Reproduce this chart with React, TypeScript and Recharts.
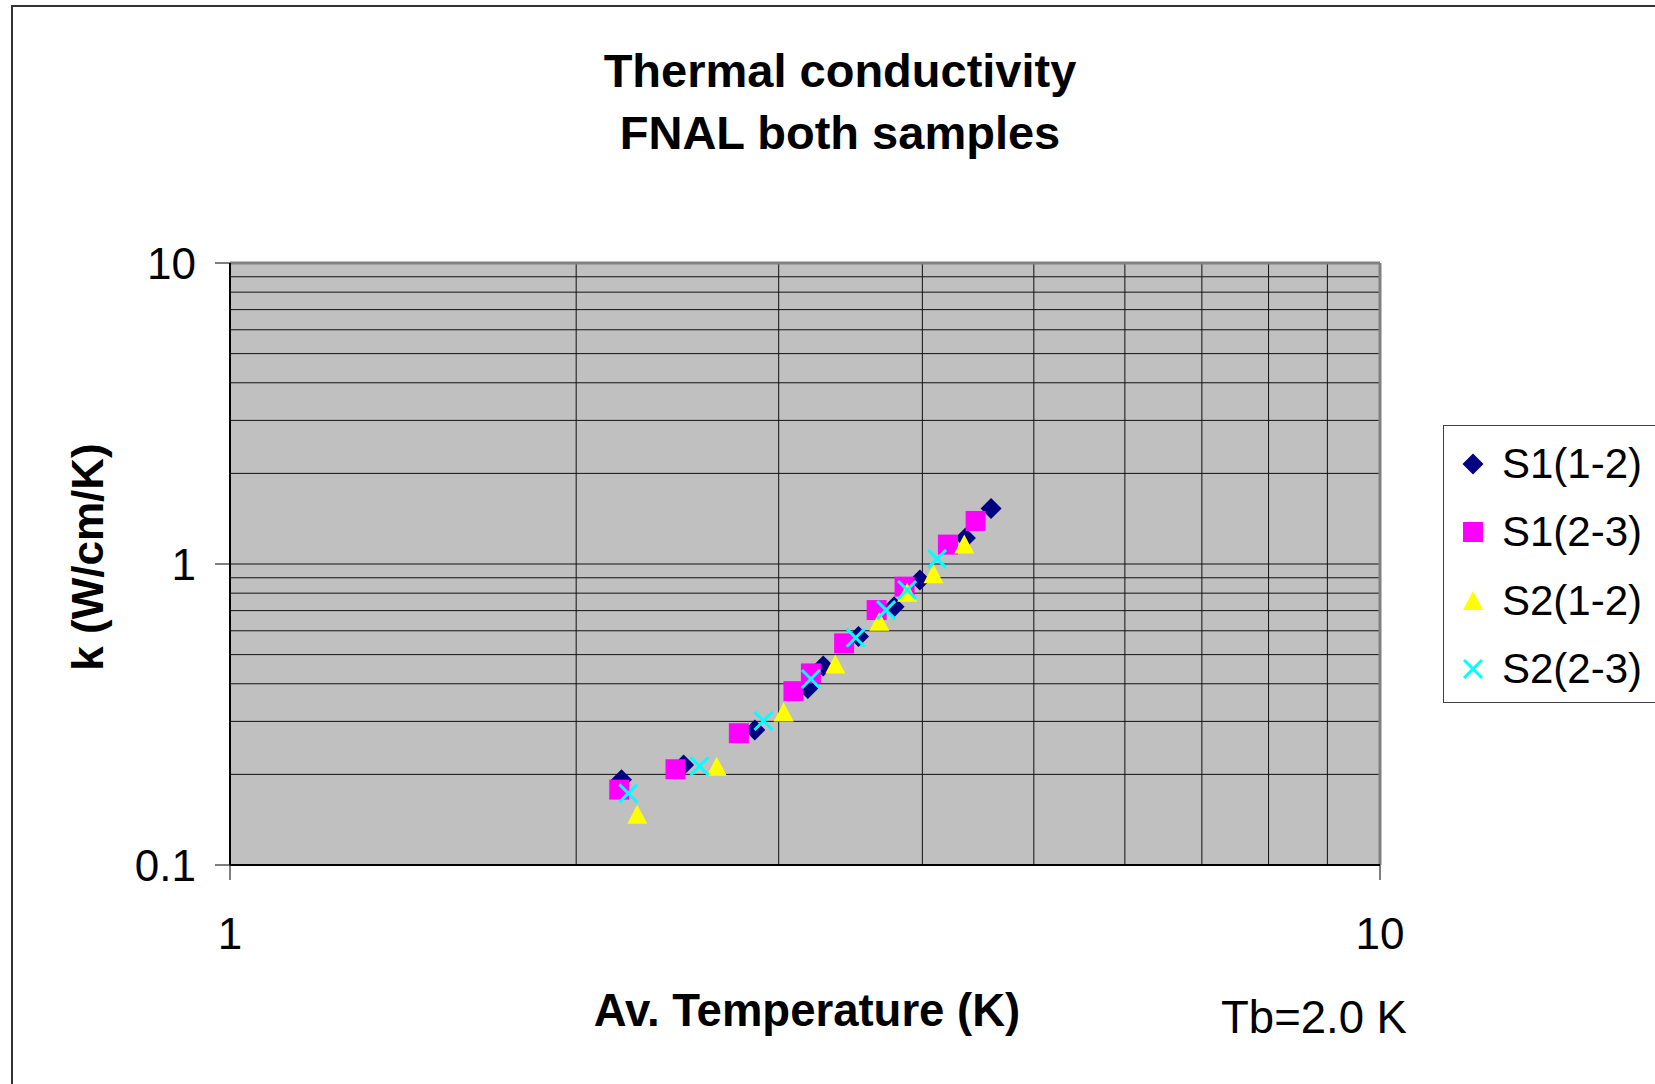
import React from "react";
import {
  ScatterChart,
  Scatter,
  XAxis,
  YAxis,
  ReferenceLine,
  ReferenceArea,
} from "recharts";

// average temperature (K) and conductivity k (W/cm/K) per pair of sensors
const s1a_T = [2.19, 2.48, 2.86, 3.18, 3.28, 3.52, 3.78, 3.98, 4.36, 4.59];
const s1a_k = [0.192, 0.215, 0.281, 0.386, 0.458, 0.574, 0.721, 0.885, 1.22, 1.53];

const s1b_T = [2.18, 2.44, 2.77, 3.09, 3.2, 3.42, 3.65, 3.86, 4.21, 4.45];
const s1b_k = [0.178, 0.208, 0.274, 0.378, 0.433, 0.545, 0.703, 0.841, 1.16, 1.39];

const s2a_T = [2.26, 2.65, 3.03, 3.36, 3.67, 3.88, 4.09, 4.35];
const s2a_k = [0.147, 0.212, 0.321, 0.464, 0.643, 0.803, 0.924, 1.16];

const s2b_T = [2.22, 2.56, 2.91, 3.2, 3.5, 3.72, 3.88, 4.12];
const s2b_k = [0.173, 0.213, 0.301, 0.415, 0.569, 0.703, 0.82, 1.04];

const seriesNames = ["S1(1-2)", "S1(2-3)", "S2(1-2)", "S2(2-3)"];
const seriesColors = ["#000080", "#FF00FF", "#FFFF00", "#00FFFF"];

const xTicks = [1, 10];
const yTicks = [0.1, 1, 10];
const xMinor = [2, 3, 4, 5, 6, 7, 8, 9];
const yMinor = [0.2, 0.3, 0.4, 0.5, 0.6, 0.7, 0.8, 0.9, 1, 2, 3, 4, 5, 6, 7, 8, 9];

const pair = (ts: number[], ks: number[]) => ts.map((t, i) => ({ t, k: ks[i] }));

const FONT = "'Liberation Sans', Arial, sans-serif";

function marker(kind: number, cx: number, cy: number, key?: string) {
  const c = seriesColors[kind];
  if (kind === 0) {
    const r = 10.5;
    return (
      <polygon key={key} points={`${cx},${cy - r} ${cx + r},${cy} ${cx},${cy + r} ${cx - r},${cy}`} fill={c} />
    );
  }
  if (kind === 1) {
    return <rect key={key} x={cx - 10} y={cy - 10} width={20} height={20} fill={c} />;
  }
  if (kind === 2) {
    return (
      <polygon key={key} points={`${cx},${cy - 10} ${cx + 10},${cy + 9} ${cx - 10},${cy + 9}`} fill={c} />
    );
  }
  const r = 9;
  return (
    <g key={key} stroke={c} strokeWidth={3}>
      <line x1={cx - r} y1={cy - r} x2={cx + r} y2={cy + r} />
      <line x1={cx - r} y1={cy + r} x2={cx + r} y2={cy - r} />
    </g>
  );
}

const shapeFor = (kind: number) => (props: any) => marker(kind, props.cx, props.cy);

const XTick = (props: any) => (
  <text
    x={props.x}
    y={props.y + 51}
    textAnchor="middle"
    dominantBaseline="central"
    fontFamily={FONT}
    fontSize={44}
    fill="#000"
  >
    {props.payload.value}
  </text>
);

const YTick = (props: any) => (
  <text
    x={props.x - 17}
    y={props.y}
    textAnchor="end"
    dominantBaseline="central"
    fontFamily={FONT}
    fontSize={44}
    fill="#000"
  >
    {props.payload.value}
  </text>
);

const LegendBox = () => (
  <div
    style={{
      position: "absolute",
      left: 1443,
      top: 425,
      width: 212,
      height: 278,
      borderTop: "1px solid #404040",
      borderLeft: "1px solid #404040",
      borderBottom: "1px solid #404040",
      boxSizing: "border-box",
      background: "#fff",
    }}
  >
    {seriesNames.map((name, i) => (
      <div
        key={name}
        style={{
          position: "absolute",
          left: 0,
          top: 38 + i * 68.3 - 25,
          height: 50,
          display: "flex",
          alignItems: "center",
        }}
      >
        <svg width={58} height={50}>
          {marker(i, 29, 25)}
        </svg>
        <span style={{ fontFamily: FONT, fontSize: 42, color: "#000", whiteSpace: "nowrap" }}>{name}</span>
      </div>
    ))}
  </div>
);

export default function App() {
  const text = (extra: React.CSSProperties): React.CSSProperties => ({
    position: "absolute",
    fontFamily: FONT,
    color: "#000",
    whiteSpace: "nowrap",
    transform: "translate(-50%, -50%)",
    ...extra,
  });

  return (
    <div
      style={{
        position: "absolute",
        left: 0,
        top: 0,
        width: 1655,
        height: 1084,
        overflow: "hidden",
        background: "#fff",
      }}
    >
      <div
        style={{
          position: "absolute",
          left: 11,
          top: 5,
          width: 1700,
          height: 1200,
          border: "2px solid #333",
        }}
      />
      <ScatterChart
        width={1655}
        height={1084}
        margin={{ top: 263, right: 275, bottom: 159, left: 130 }}
      >
        <XAxis
          type="number"
          dataKey="t"
          scale="log"
          domain={[1, 10]}
          ticks={xTicks}
          allowDataOverflow
          height={60}
          tickSize={15}
          tickMargin={2}
          axisLine={{ stroke: "#000", strokeWidth: 2 }}
          tickLine={{ stroke: "#000", strokeWidth: 1 }}
          tick={<XTick />}
        />
        <YAxis
          type="number"
          dataKey="k"
          scale="log"
          domain={[0.1, 10]}
          ticks={yTicks}
          allowDataOverflow
          width={100}
          tickSize={15}
          tickMargin={2}
          axisLine={{ stroke: "#000", strokeWidth: 2 }}
          tickLine={{ stroke: "#000", strokeWidth: 1 }}
          tick={<YTick />}
        />
        <ReferenceArea x1={1} x2={10} y1={0.1} y2={10} fill="#C0C0C0" fillOpacity={1} stroke="none" />
        {xMinor.map((v) => (
          <ReferenceLine key={`x${v}`} x={v} stroke="#111" strokeWidth={1} />
        ))}
        {yMinor.map((v) => (
          <ReferenceLine key={`y${v}`} y={v} stroke="#111" strokeWidth={1} />
        ))}
        <ReferenceLine y={10} stroke="#808080" strokeWidth={3} />
        <ReferenceLine x={10} stroke="#808080" strokeWidth={3} />
        <Scatter
          name={seriesNames[0]}
          data={pair(s1a_T, s1a_k)}
          fill={seriesColors[0]}
          shape={shapeFor(0)}
          isAnimationActive={false}
        />
        <Scatter
          name={seriesNames[1]}
          data={pair(s1b_T, s1b_k)}
          fill={seriesColors[1]}
          shape={shapeFor(1)}
          isAnimationActive={false}
        />
        <Scatter
          name={seriesNames[2]}
          data={pair(s2a_T, s2a_k)}
          fill={seriesColors[2]}
          shape={shapeFor(2)}
          isAnimationActive={false}
        />
        <Scatter
          name={seriesNames[3]}
          data={pair(s2b_T, s2b_k)}
          fill={seriesColors[3]}
          shape={shapeFor(3)}
          isAnimationActive={false}
        />
      </ScatterChart>
      <LegendBox />
      <div style={text({ left: 840, top: 70, fontSize: 47, fontWeight: "bold" })}>Thermal conductivity</div>
      <div style={text({ left: 840, top: 132, fontSize: 47, fontWeight: "bold" })}>FNAL both samples</div>
      <div style={text({ left: 807, top: 1011, fontSize: 45.5, fontWeight: "bold" })}>Av. Temperature (K)</div>
      <div
        style={text({
          left: 88,
          top: 557,
          fontSize: 44,
          fontWeight: "bold",
          transform: "translate(-50%, -50%) rotate(-90deg)",
        })}
      >
        k (W/cm/K)
      </div>
      <div style={text({ left: 1314, top: 1018, fontSize: 45.5 })}>Tb=2.0 K</div>
    </div>
  );
}
